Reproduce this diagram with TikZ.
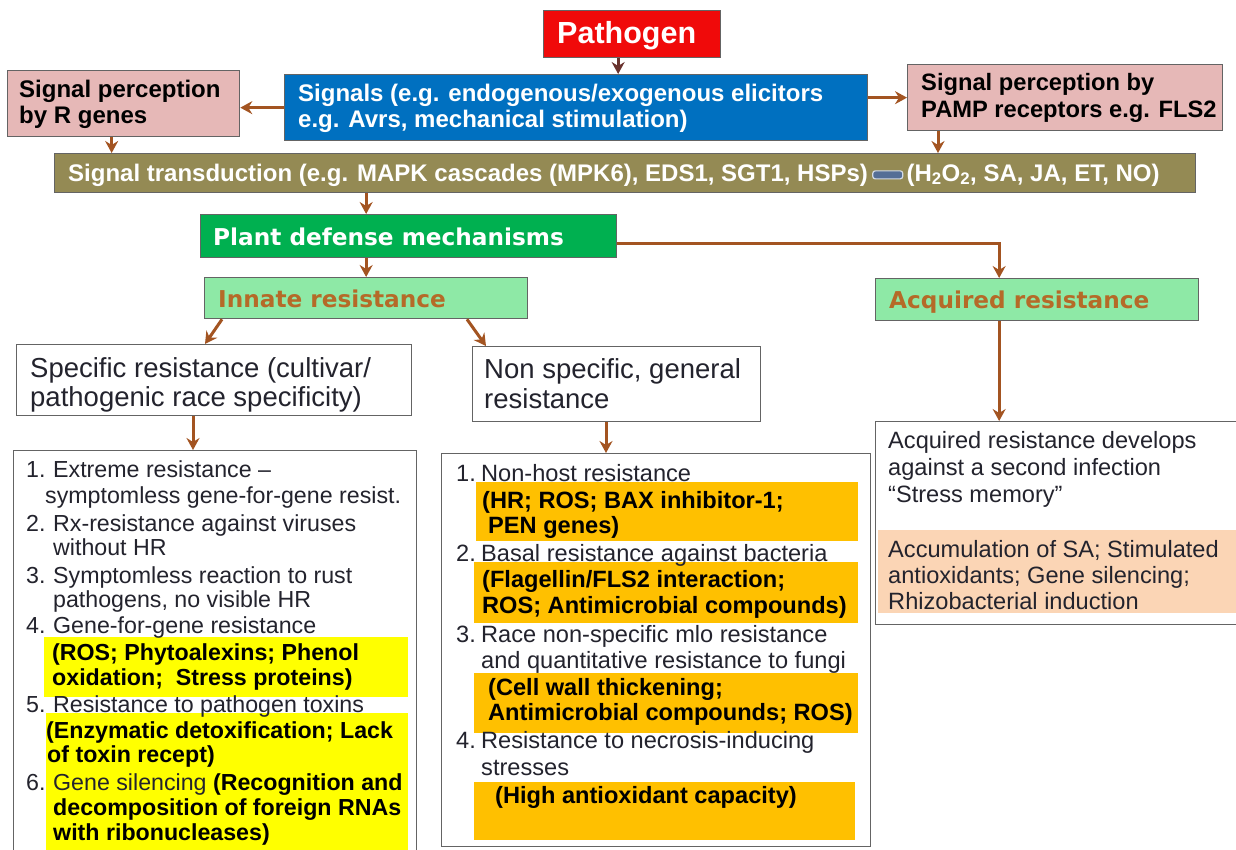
\documentclass[tikz,border=0pt]{standalone}
\usepackage{fontspec}
\setmainfont{Liberation Sans}
\newfontfamily\widefont{DejaVu Sans}
\usetikzlibrary{arrows.meta,calc}

\definecolor{cred}{RGB}{240,10,10}
\definecolor{cblue}{RGB}{0,112,192}
\definecolor{cpink}{RGB}{230,184,183}
\definecolor{colive}{RGB}{148,138,84}
\definecolor{cgreen}{RGB}{0,176,80}
\definecolor{clight}{RGB}{142,233,166}
\definecolor{cbrowntxt}{RGB}{181,106,40}
\definecolor{cyellow}{RGB}{255,255,0}
\definecolor{corange}{RGB}{255,192,0}
\definecolor{cpeach}{RGB}{251,213,181}
\definecolor{arrbrown}{RGB}{163,84,33}
\definecolor{cdark}{RGB}{105,50,45}
\definecolor{boxgray}{RGB}{100,100,100}
\definecolor{txtgray}{RGB}{35,35,45}
\definecolor{cdash}{RGB}{85,110,150}

\tikzset{
  box/.style={draw=boxgray, line width=1.3pt, inner sep=0pt, anchor=north west},
  hl/.style={draw=none, inner sep=0pt, anchor=north west},
  arr/.style={draw=arrbrown, line width=3pt, -{Stealth[length=12pt,width=13pt,inset=4pt]}},
  hd/.style={anchor=base west, inner sep=0pt, font=\bfseries\fontsize{24}{28}\selectfont},
  gr/.style={anchor=base west, inner sep=0pt, font=\widefont\bfseries\fontsize{23.2}{26}\selectfont},
  mid/.style={anchor=base west, inner sep=0pt, text=txtgray, font=\fontsize{27.5}{30}\selectfont},
  lst/.style={anchor=base west, inner sep=0pt, text=txtgray, font=\fontsize{23.6}{26}\selectfont},
  lstb/.style={anchor=base west, inner sep=0pt, text=black, font=\bfseries\fontsize{23.6}{26}\selectfont},
  lstL/.style={lst, font=\fontsize{23.2}{26}\selectfont},
  lstbL/.style={lstb, font=\bfseries\fontsize{23.2}{26}\selectfont},
}

% box from corner (x1,y1) to corner (x2,y2), y counted downwards
\newcommand\boxat[6]{\node[#2, minimum width={(#5)-(#3)}, minimum height={(#6)-(#4)}] (#1) at (#3,#4) {};}
\newcommand\num[2]{\makebox[#1pt][l]{#2}}

\begin{document}
\begin{tikzpicture}[x=1pt,y=-1pt]
\fill[white] (0,0) rectangle (1236,849);
\useasboundingbox (0,0) rectangle (1236,849);

% ---- boxes
\boxat{pathogen}{box,fill=cred}{543}{10}{720}{57}
\boxat{signals}{box,fill=cblue}{284}{74}{867}{140}
\boxat{rgenes}{box,fill=cpink}{7}{70}{239}{136}
\boxat{pamp}{box,fill=cpink}{907}{64}{1222}{130}
\boxat{trans}{box,fill=colive}{54}{153}{1195}{192}
\boxat{defense}{box,fill=cgreen}{200}{214}{616}{257}
\boxat{innate}{box,fill=clight}{204}{277}{527}{318}
\boxat{acquired}{box,fill=clight}{875}{278}{1198}{320}
\boxat{specific}{box,fill=white}{16}{344}{411}{415}
\boxat{nonspec}{box,fill=white}{472}{346}{760}{421}
\boxat{leftlist}{box,fill=white}{13}{450}{416}{858}
\boxat{midlist}{box,fill=white}{441}{453}{870}{846}
\boxat{rightbox}{box,fill=white}{875}{421}{1244}{624}

% ---- highlighted bands
\boxat{hlA}{hl,fill=cyellow}{44}{637}{408}{697}
\boxat{hlB}{hl,fill=cyellow}{46}{713}{408}{851}
\boxat{hlC}{hl,fill=corange}{476}{482}{858}{541}
\boxat{hlD}{hl,fill=corange}{474}{562}{858}{623}
\boxat{hlE}{hl,fill=corange}{474}{673}{858}{733}
\boxat{hlF}{hl,fill=corange}{474}{782}{855}{840}
\boxat{hlG}{hl,fill=cpeach}{878}{530}{1244}{613}

% ---- top texts
\node[hd, text=white, font=\bfseries\fontsize{30.5}{33}\selectfont] (tPath) at (557,43) {Pathogen};
\node[hd, text=white] (tSig1) at (298,101) {Signals (e.g. endogenous/exogenous elicitors};
\node[hd, text=white] (tSig2) at (298,127) {e.g. Avrs, mechanical stimulation)};
\node[hd, text=black] (tR1) at (19,97) {Signal perception};
\node[hd, text=black] (tR2) at (19,123) {by R genes};
\node[hd, text=black, font=\bfseries\fontsize{23.7}{28}\selectfont] (tP1) at (921,90) {Signal perception by};
\node[hd, text=black, font=\bfseries\fontsize{23.7}{28}\selectfont] (tP2) at (921,117) {PAMP receptors e.g. FLS2};
\node[hd, text=white] (tA) at (68,181) {Signal transduction (e.g. MAPK cascades (MPK6), EDS1, SGT1, HSPs)};
\node[anchor=west, fill=cdash, draw=cdash!25!white, line width=1.2pt, rounded corners=2.5pt,
      minimum width=30pt, minimum height=8pt, inner sep=0pt] (dash) at ([xshift=4]tA.east) {};
\node[hd, text=white] (tB) at ([xshift=3]dash.east |- tA.base) {(H\textsubscript{2}O\textsubscript{2}, SA, JA, ET, NO)};
\node[gr, text=white] (tDef) at (213,245) {Plant defense mechanisms};
\node[gr, text=cbrowntxt] (tInn) at (218,307) {Innate resistance};
\node[gr, text=cbrowntxt] (tAcq) at (889,308) {Acquired resistance};
\node[mid] (tS1) at (30,377) {Specific resistance (cultivar/};
\node[mid] (tS2) at (30,406) {pathogenic race specificity)};
\node[mid] (tN1) at (484,378) {Non specific, general};
\node[mid] (tN2) at (484,408) {resistance};

% ---- specific resistance list
\node[lstL] (a1) at (26,477) {\num{27}{1.}Extreme resistance –};
\node[lstL] (a2) at (45,503) {symptomless gene-for-gene resist.};
\node[lstL] (a3) at (26,531) {\num{27}{2.}Rx-resistance against viruses};
\node[lstL] (a4) at (53,555) {without HR};
\node[lstL] (a5) at (26,583) {\num{27}{3.}Symptomless reaction to rust};
\node[lstL] (a6) at (53,607) {pathogens, no visible HR};
\node[lstL] (a7) at (26,633) {\num{27}{4.}Gene-for-gene resistance};
\node[lstbL] (a8) at (52,660) {(ROS; Phytoalexins; Phenol};
\node[lstbL] (a9) at (52,685) {oxidation;\ \ Stress proteins)};
\node[lstL] (a10) at (26,712) {\num{27}{5.}Resistance to pathogen toxins};
\node[lstbL] (a11) at (46,738) {(Enzymatic detoxification; Lack};
\node[lstbL] (a12) at (47,762) {of toxin recept)};
\node[lstL] (a13) at (26,790) {\num{27}{6.}Gene silencing {\bfseries\color{black}(Recognition and}};
\node[lstbL] (a14) at (53,815) {decomposition of foreign RNAs};
\node[lstbL] (a15) at (53,840) {with ribonucleases)};

% ---- non specific resistance list
\node[lst] (b1) at (456,481) {\num{25}{1.}Non-host resistance};
\node[lstb] (b2) at (482,508) {(HR; ROS; BAX inhibitor-1;};
\node[lstb] (b3) at (488,533) {PEN genes)};
\node[lst] (b4) at (456,561) {\num{25}{2.}Basal resistance against bacteria};
\node[lstb] (b5) at (482,587) {(Flagellin/FLS2 interaction;};
\node[lstb] (b6) at (482,613) {ROS; Antimicrobial compounds)};
\node[lst] (b7) at (456,642) {\num{25}{3.}Race non-specific mlo resistance};
\node[lst] (b8) at (481,668) {and quantitative resistance to fungi};
\node[lstb] (b9) at (488,695) {(Cell wall thickening;};
\node[lstb] (b10) at (488,720) {Antimicrobial compounds; ROS)};
\node[lst] (b11) at (456,748) {\num{25}{4.}Resistance to necrosis-inducing};
\node[lst] (b12) at (481,775) {stresses};
\node[lstb] (b13) at (495,803) {(High antioxidant capacity)};

% ---- acquired resistance box
\node[lst] (c1) at (888,448) {Acquired resistance develops};
\node[lst] (c2) at (888,475) {against a second infection};
\node[lst] (c3) at (888,502) {“Stress memory”};
\node[lst] (c4) at (888,557) {Accumulation of SA; Stimulated};
\node[lst] (c5) at (888,583) {antioxidants; Gene silencing;};
\node[lst] (c6) at (888,609) {Rhizobacterial induction};

% ---- connectors
\draw[arr, draw=cdark] ([xshift=-14]pathogen.south) -- ([xshift=-14]pathogen.south |- signals.north);
\draw[arr] (signals.west) -- (signals.west -| rgenes.east);
\draw[arr] (signals.east |- pamp.west) -- (pamp.west);
\draw[arr] ([xshift=-12]rgenes.south) -- ([xshift=-12]rgenes.south |- trans.north);
\draw[arr] ([xshift=31]pamp.south west) -- ([xshift=31]pamp.south west |- trans.north);
\draw[arr] (innate.north |- trans.south) -- (innate.north |- defense.north);
\draw[arr] (innate.north |- defense.south) -- (innate.north);
\draw[arr] ([yshift=-7]defense.east) -| ([xshift=-38]acquired.north);
\draw[arr] ([xshift=18]innate.south west) -- ([xshift=189]specific.north west);
\draw[arr] ([xshift=263]innate.south west) -- ([xshift=14]nonspec.north west);
\draw[arr] ([xshift=177]specific.south west) -- ([xshift=177]specific.south west |- leftlist.north);
\draw[arr] ([xshift=134]nonspec.south west) -- ([xshift=134]nonspec.south west |- midlist.north);
\draw[arr] ([xshift=-38]acquired.south) -- ([xshift=-38]acquired.south |- rightbox.north);
\end{tikzpicture}
\end{document}
